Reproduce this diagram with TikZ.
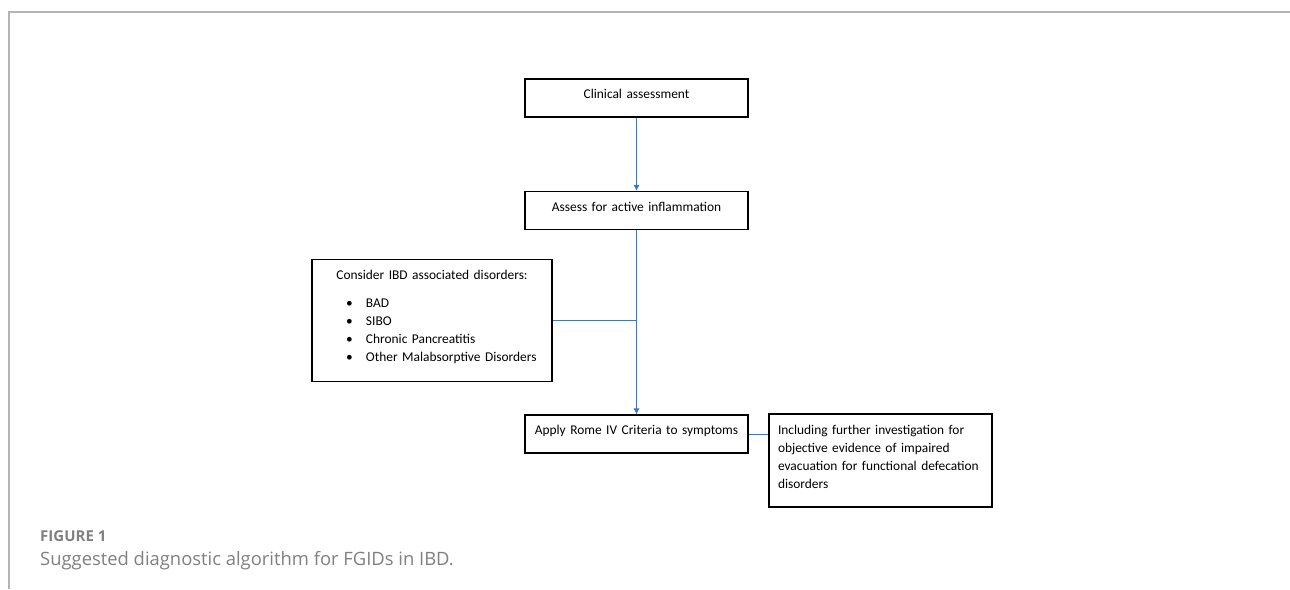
\documentclass[tikz,border=0pt]{standalone}
\usepackage{fontspec}
\setmainfont{Carlito}
\newfontfamily\captionfont{Open Sans}
\usepackage{xcolor}
\usetikzlibrary{shapes,arrows,arrows.meta}
\definecolor{wordblue}{HTML}{4472C4}
\definecolor{framegray}{HTML}{B4B4B4}
\definecolor{captiongray}{HTML}{808080}
\newcommand{\nohyph}{\hyphenpenalty 10000\relax}
\tikzstyle{block} = [rectangle, draw, line width=1.1pt, minimum width=223pt,
    text width=211pt, inner xsep=6pt, inner ysep=2pt, text centered,
    text height=17.5pt, text depth=16.5pt, font=\fontsize{13.4}{18}\selectfont\nohyph]
\tikzstyle{wideblock} = [block, align=left, text width=205pt, inner xsep=9pt, text height=18pt, text depth=71pt]
\tikzstyle{listblock} = [block, minimum width=240pt, text width=228pt, text height=18pt, text depth=100pt]
\tikzstyle{arrow} = [draw, wordblue, line width=0.8pt, -{Latex[length=6pt,width=6pt]}]
\tikzstyle{line} = [draw, wordblue, line width=0.8pt]
\tikzstyle{caption} = [anchor=base west, inner sep=0pt, text=captiongray]
\newcommand{\bitem}[1]{\par\noindent\hspace*{28pt}\makebox[20pt][l]{\textbullet}#1}

\begin{document}
\begin{tikzpicture}[x=1pt, y=-1pt, node distance=112.5pt]
	\useasboundingbox (0,0) rectangle (1290,589);
	% frame of the figure
	\draw [framegray, line width=1.2pt] (1290,12) -- (9,12) -- (9,589);
	% Place nodes
	\node [block] (clinical) at (636.5,98) {Clinical assessment};
	\node [block, below of=clinical] (assess) {Assess for active inflammation};
	\node [block, below of=assess, node distance=223.5pt] (apply) {Apply Rome IV Criteria to symptoms};
	\node [listblock, left of=assess, node distance=204.5pt, yshift=-110pt] (consider) {\centering Consider IBD associated disorders:\par\vspace{10pt}\raggedright
		\bitem{BAD}\bitem{SIBO}\bitem{Chronic Pancreatitis}\bitem{Other Malabsorptive Disorders}\par};
	\node [wideblock, right of=apply, node distance=244pt, yshift=-26.5pt] (including) {Including further investigation for\\objective evidence of impaired\\evacuation for functional defecation\\disorders};
	
	\path [arrow] (clinical) -- (assess);
	\path [arrow] (assess) -- (apply);
	\path [line] (consider.east) -- (consider.east -| assess);
	\path [line] (apply.east) -- (apply.east -| including.west);
	
	% caption
	\node [caption, font=\captionfont\bfseries\fontsize{15}{17}\selectfont] (figlabel) at (40,541.5) {FIGURE 1};
	\node [caption, font=\captionfont\fontsize{18.4}{22}\selectfont] (figcaption) at (40,565) {Suggested diagnostic algorithm for FGIDs in IBD.};
\end{tikzpicture}
\end{document}
